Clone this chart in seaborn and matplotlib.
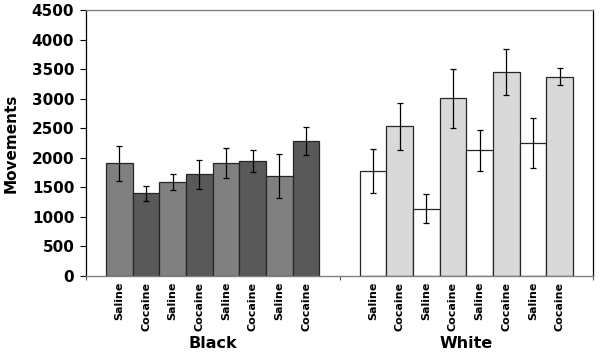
import numpy as np
import pandas as pd
import matplotlib
matplotlib.use("Agg")
import matplotlib.pyplot as plt
import matplotlib.transforms as mtransforms
import seaborn as sns

groups = ["Black", "White"]
treatments = ["Saline", "Cocaine", "Saline", "Cocaine", "Saline", "Cocaine", "Saline", "Cocaine"]
black_values = [1910, 1400, 1590, 1720, 1910, 1945, 1690, 2285]
black_errors = [295, 125, 130, 240, 250, 185, 370, 230]
white_values = [1770, 2530, 1140, 3010, 2125, 3450, 2245, 3375]
white_errors = [372, 400, 245, 500, 345, 393, 423, 138]
y_ticks = [0, 500, 1000, 1500, 2000, 2500, 3000, 3500, 4000, 4500]

group_colors = {"Black": ["#808080", "#595959"], "White": ["#ffffff", "#d9d9d9"]}

sns.set_theme(style="white")
plt.rcParams["font.family"] = ["DejaVu Sans"]
plt.rcParams["text.color"] = "black"
plt.rcParams["axes.labelcolor"] = "black"
plt.rcParams["xtick.color"] = "black"
plt.rcParams["ytick.color"] = "black"

df = pd.DataFrame({
    "group": np.repeat(groups, 8),
    "slot": [f"s{i}" for i in range(8)] * 2,
    "value": black_values + white_values,
})

fig = plt.figure(figsize=(6, 3.55), dpi=100)
ax = fig.add_axes([86 / 600, 1 - 276 / 355, (593 - 86) / 600, 266 / 355])

sns.barplot(data=df, x="group", y="value", hue="slot", order=groups,
            width=0.842, gap=0, errorbar=None, legend=False, ax=ax,
            saturation=1, edgecolor="#262626", linewidth=0.9)

patches = sorted([p for p in ax.patches if p.get_height() > 0],
                 key=lambda p: p.get_x())
errs = black_errors + white_errors
centers, heights = [], []
for i, p in enumerate(patches):
    g = groups[i // 8]
    p.set_facecolor(group_colors[g][i % 2])
    p.set_edgecolor("#262626")
    centers.append(p.get_x() + p.get_width() / 2)
    heights.append(p.get_height())

ax.errorbar(centers, heights, yerr=errs, fmt="none", ecolor="black",
            elinewidth=0.9, capsize=2, capthick=0.9, zorder=5)

ax.set_xlim(-0.5, 1.5)
ax.set_ylim(0, 4500)
ax.set_yticks(y_ticks)
ax.set_yticklabels([str(t) for t in y_ticks], fontsize=11, fontweight="bold",
                   color="black")
ax.tick_params(axis="y", direction="out", length=4.5, width=0.8, color="black",
               pad=4, left=True)

ax.set_xticks(centers)
ax.set_xticklabels(treatments * 2, rotation=90, fontsize=8, fontweight="bold",
                   color="black")
ax.tick_params(axis="x", which="major", length=0, pad=4)
ax.set_xticks([-0.5, 0.5, 1.5], minor=True)
ax.tick_params(axis="x", which="minor", length=3, width=0.8, color="#555555",
               direction="out", bottom=True)

ax.set_xlabel("")
ax.set_ylabel("Movements", fontsize=11, fontweight="bold", color="black")
ax.yaxis.set_label_coords(-0.133, 0.5)

trans = mtransforms.blended_transform_factory(ax.transData, ax.transAxes)
for i, g in enumerate(groups):
    ax.text(i, -0.252, g, transform=trans, ha="center", va="center",
            fontsize=11.5, fontweight="bold", color="black")

ax.grid(False)
for side in ["left", "right"]:
    ax.spines[side].set_color("black")
    ax.spines[side].set_linewidth(0.9)
for side in ["top", "bottom"]:
    ax.spines[side].set_color("#808080")
    ax.spines[side].set_linewidth(1.0)
    ax.spines[side].set_visible(True)
ax.spines["left"].set_visible(True)
ax.spines["right"].set_visible(True)

fig.savefig("out.png", dpi=100, facecolor="white")
